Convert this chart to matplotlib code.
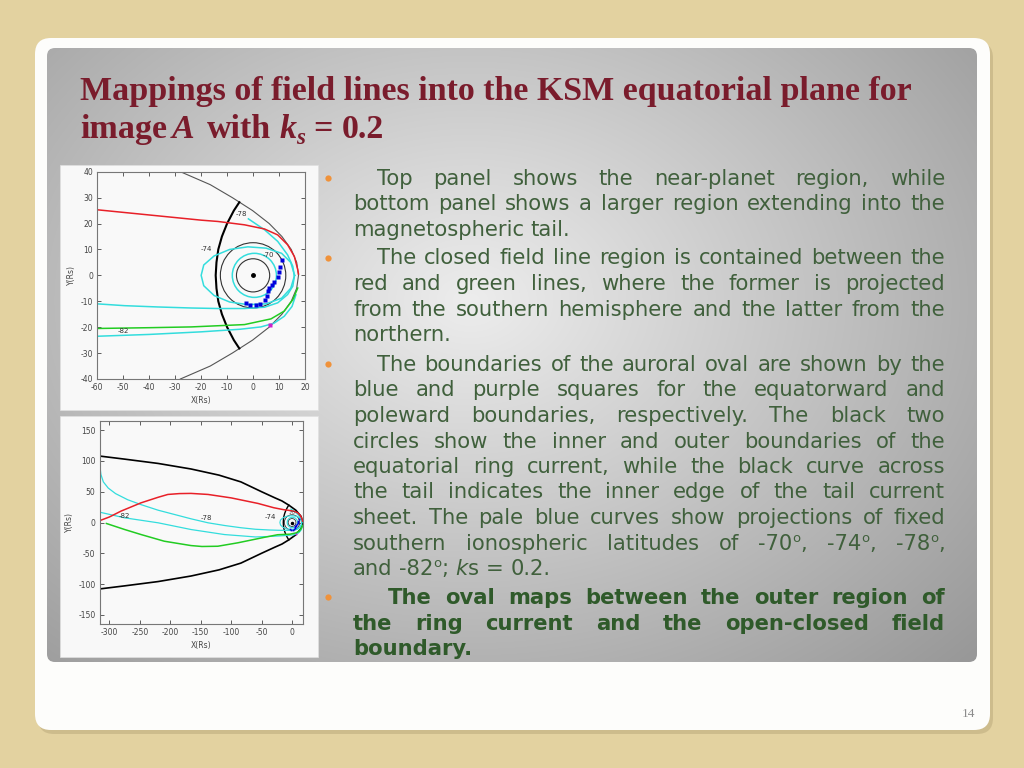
import numpy as np
import matplotlib
matplotlib.use('Agg')
import matplotlib.pyplot as plt
from matplotlib.patches import FancyBboxPatch, Circle, Rectangle

plt.rcParams['axes.unicode_minus'] = False

# ---------------- near-planet region (top panel), KSM, Rs ----------------
mp_x = [-28.0, -16.5, -8.0, -0.2, 6.2, 11.1, 14.7, 16.8, 17.5, 16.8, 14.7, 11.1, 6.2, -0.2, -8.0, -16.5, -28.0]
mp_y = [40, 35, 30, 25, 20, 15, 10, 5, 0, -5, -10, -15, -20, -25, -30, -35, -40]

edge_x = [-5.3, -7.4, -10.0, -12.0, -13.4, -14.1, -14.4, -14.1, -13.4, -12.0, -10.0, -7.4, -5.3]
edge_y = [28.2, 25, 20, 15, 10, 5, 0, -5, -10, -15, -20, -25, -28.2]

red_x = [-60, -50, -40, -30, -20, -13.6, -3.3, 4.4, 9.5, 13.3, 15.9, 17.2, 17.5]
red_y = [25.3, 24.3, 23.3, 22.3, 21.3, 20.8, 19.5, 17.9, 15.6, 11.8, 7.3, 2.2, 0.5]

green_x = [-60, -40, -23.8, -3.3, 6.9, 12.0, 15.3, 17.2]
green_y = [-20.5, -20.2, -19.9, -19.0, -16.8, -13.8, -9.4, -4.9]

c82_x = [-60, -40, -20, -5, 3, 8, 12, 15, 16.5]
c82_y = [-23.5, -22.8, -21.8, -20.8, -19.9, -18.5, -15.8, -12.0, -7.5]

c78_x = [-60, -49.5, -36.7, -23.8, -13.6, -3.3, 4.4, 9.5, 13.3, 15.3, 15.9, 15.3, 13.3, 9.5, 4.4, -1.8]
c78_y = [-11.0, -11.7, -12.2, -12.6, -12.8, -12.8, -12.3, -10.6, -7.4, -4.2, -0.4, 3.5, 7.9, 13.1, 17.6, 21.8]

c74_x = [16, 14.5, 11, 5, -2, -9, -15, -19, -20, -19, -15, -9, -2, 5, 11, 14.5, 16]
c74_y = [0, 5, 8.5, 10.5, 11, 10, 7.5, 4, 0, -4, -7.8, -10.3, -11.3, -11, -8.8, -5, 0]

c70_center = (0.5, 0.0)
c70_r = 8.5
ring_r = [6.4, 12.6]

oval_eq_x = [11.3, 10.4, 10.1, 9.5, 8.2, 7.3, 6.3, 5.6, 5.3, 4.6, 2.8, 1.0, -1.0, -2.9]
oval_eq_y = [6.0, 3.2, 1.2, -0.6, -2.4, -3.6, -4.9, -6.2, -8.1, -9.7, -11.0, -11.5, -11.5, -10.6]
oval_pole_x = [6.5]
oval_pole_y = [-19.2]

top_labels = ['-78', '-74', '-70', '-82']
top_lab_x = [-4.4, -18.1, 5.9, -50.1]
top_lab_y = [23.5, 10.1, 7.7, -21.5]

# ---------------- tail region (bottom panel) ----------------
mp2_x = [-316, -275, -220, -166, -120, -84, -50, -28, -16.5, -5.3, 6.2, 14.7, 17.5,
         14.7, 6.2, -5.3, -16.5, -28, -50, -84, -120, -166, -220, -275, -316]
mp2_y = [108, 103, 96, 87, 77, 66, 50, 40, 35, 28.2, 20, 10, 0,
         -10, -20, -28.2, -35, -40, -50, -66, -77, -87, -96, -103, -108]

red2_x = [-316, -300, -281, -248, -220, -204, -185, -166, -138, -100, -56, -30, -13.6, -3.3, 4.4, 9.5, 13.3, 15.9, 17.2]
red2_y = [3, 9, 18.5, 32, 41, 45.6, 47, 47.3, 45.6, 40, 31, 24, 20.8, 19.5, 17.9, 15.6, 11.8, 7.3, 2.2]

green2_x = [-305, -275, -248, -210, -166, -148, -122, -89, -45, -23.8, -3.3, 6.9, 12.0, 15.3, 17.2]
green2_y = [-1.6, -11.4, -19.6, -30.4, -37.5, -39.0, -38.6, -33.0, -24.0, -19.9, -19.0, -16.8, -13.8, -9.4, -4.9]

c78b_x = [-316, -315.5, -314, -310, -302, -290, -270, -248, -220, -193, -166, -138, -110, -84, -60,
          -36.7, -23.8, -13.6, -3.3, 4.4, 9.5, 13.3, 15.3, 15.9, 15.3, 13.3, 9.5, 4.4, -1.8]
c78b_y = [100, 90, 78, 66, 56, 47, 37, 29, 20, 13, 6, -0.5, -5, -8.5, -11,
          -12.2, -12.6, -12.8, -12.8, -12.3, -10.6, -7.4, -4.2, -0.4, 3.5, 7.9, 13.1, 17.6, 21.8]

c82b_x = [-316, -275, -220, -166, -111, -60, -40, -20, -5, 3, 8, 12, 15, 16.5]
c82b_y = [16.8, 7.6, -0.5, -11.4, -19.6, -23.5, -22.8, -21.8, -20.8, -19.9, -18.5, -15.8, -12.0, -7.5]

bot_labels = ['-82', '-78', '-74', '-70']
bot_lab_x = [-275, -140, -35.5, 1]
bot_lab_y = [10.3, 7.0, 8.6, 15]

# ---------------- slide text ----------------
title_1 = "Mappings of field lines into the KSM equatorial plane for"
paragraphs = [
    ["Top panel shows the near-planet region, while",
     "bottom panel shows a larger region extending into the",
     "magnetospheric tail."],
    ["The closed field line region is contained between the",
     "red and green lines, where the former is projected",
     "from the southern hemisphere and the latter from the",
     "northern."],
    ["The boundaries of the auroral oval are shown by the",
     "blue and purple squares for the equatorward and",
     "poleward boundaries, respectively. The black two",
     "circles show the inner and outer boundaries of the",
     "equatorial ring current, while the black curve across",
     "the tail indicates the inner edge of the tail current",
     "sheet. The pale blue curves show projections of fixed",
     "southern ionospheric latitudes of -70^o, -74^o, -78^o,",
     "and -82^o; ks = 0.2."],
    ["The oval maps between the outer region of",
     "the ring current and the open-closed field",
     "boundary."],
]
para_bold = [False, False, False, True]
para_base = [185, 264.5, 371, 604]
para_indent = [377, 377, 377, 388]
page_no = "14"

W, H = 1024, 768
fig = plt.figure(figsize=(W / 100, H / 100), dpi=100)
fig.patch.set_facecolor('#e3d2a0')
bg = fig.add_axes([0, 0, 1, 1], zorder=0)
bg.set_xlim(0, W)
bg.set_ylim(H, 0)
bg.axis('off')
renderer = fig.canvas.get_renderer()

# white card with shadow
bg.add_patch(FancyBboxPatch((38, 42), 955, 692, boxstyle="round,pad=0,rounding_size=16",
                            fc='#bfae80', ec='none', alpha=0.6, zorder=0.2))
bg.add_patch(FancyBboxPatch((35, 38), 955, 692, boxstyle="round,pad=0,rounding_size=16",
                            fc='#fdfdfb', ec='none', zorder=0.3))

# gray gradient panel
panel = FancyBboxPatch((47, 48), 930, 614, boxstyle="round,pad=0,rounding_size=8",
                       fc='none', ec='none', zorder=0.4)
bg.add_patch(panel)
gy, gx = np.mgrid[48:662, 47:977]
d = np.hypot((gx - 470) / 560.0, (gy - 300) / 420.0)
g = np.clip(0.93 - 0.27 * d, 0, 1)
im = bg.imshow(np.dstack([g, g, g]), extent=(47, 977, 662, 48), origin='upper',
               aspect='auto', interpolation='bilinear', zorder=0.5)
im.set_clip_path(panel)
bg.set_xlim(0, W)
bg.set_ylim(H, 0)


def width(t):
    return t.get_window_extent(renderer).width


def space_width(**kw):
    a = bg.text(0, 0, 'a a', **kw)
    b = bg.text(0, 0, 'aa', **kw)
    s = width(a) - width(b)
    a.remove()
    b.remove()
    return s


# title
tkw = dict(family='Liberation Serif', fontweight='bold', fontsize=24.5, color='#7a1c2c', va='baseline')
bg.text(80, 100, title_1, **tkw)
sp = space_width(**tkw)
x = 80
runs = [("image", {}, sp * 0.6), ("A", {'style': 'italic'}, sp * 1.4), ("with", {}, sp),
        ("k", {'style': 'italic'}, 0), ("s", {'style': 'italic', 'size': 16.5, 'dy': 6}, sp),
        ("=", {}, sp), ("0.2", {}, 0)]
for txt, opt, gap in runs:
    kw = dict(tkw)
    kw['fontstyle'] = opt.get('style', 'normal')
    if 'size' in opt:
        kw['fontsize'] = opt['size']
    t = bg.text(x, 138 + opt.get('dy', 0), txt, **kw)
    x += width(t) + gap


# body text, justified word by word
FS = 15.2


def make_runs(word):
    if '^o' in word:
        a, b = word.split('^o')
        return [(a, {}), ('o', {'sup': True}), (b, {})]
    if word == 'ks':
        return [('k', {'style': 'italic'}), ('s', {})]
    return [(word, {})]


def put_word(word, y, bold, color):
    texts, x = [], 0
    for txt, opt in make_runs(word):
        if not txt:
            continue
        size, dy = FS, 0
        if opt.get('sup'):
            size, dy = FS * 0.62, -8
        t = bg.text(x, y + dy, txt, fontsize=size, family='DejaVu Sans',
                    fontweight='bold' if bold else 'normal',
                    fontstyle=opt.get('style', 'normal'), color=color, va='baseline')
        texts.append(t)
        x += width(t)
    return texts, x


for lines, bold, base, indent in zip(paragraphs, para_bold, para_base, para_indent):
    color = '#2f5a2a' if bold else '#40603c'
    space = space_width(fontsize=FS, family='DejaVu Sans', fontweight='bold' if bold else 'normal')
    bg.plot([328], [base - 7], 'o', color='#f0923a', ms=4.5, mec='none')
    for i, line in enumerate(lines):
        y = base + i * 25.5
        left = indent if i == 0 else 353
        words = [put_word(w, y, bold, color) for w in line.split()]
        total = sum(wd for _, wd in words)
        last = i == len(lines) - 1
        gap = space if last or len(words) < 2 else (945 - left - total) / (len(words) - 1)
        x = left
        for texts, wd in words:
            for t in texts:
                px, py = t.get_position()
                t.set_position((px + x, py))
            x += wd + gap

bg.text(975, 717, page_no, family='Liberation Serif', fontsize=9.5, color='#8c8c8c',
        ha='right', va='baseline')

# white backgrounds of the two figures
bg.add_patch(Rectangle((60, 165), 258, 245, fc='#f8f8f8', ec='#e0e0e0', lw=0.5, zorder=1))
bg.add_patch(Rectangle((60, 416), 258, 241, fc='#f8f8f8', ec='#e0e0e0', lw=0.5, zorder=1))


def style(ax, xt, yt):
    ax.set_xticks(xt)
    ax.set_yticks(yt)
    ax.tick_params(direction='in', length=3, width=0.6, top=True, right=True,
                   labelsize=5.5, colors='#444444', pad=3)
    for s in ax.spines.values():
        s.set_color('#777777')
        s.set_linewidth(0.8)
    ax.set_facecolor('#f9f9f9')
    ax.set_xlabel('X(Rs)', fontsize=5.5, color='#444444', labelpad=3)
    ax.set_ylabel('Y(Rs)', fontsize=5.5, color='#444444', labelpad=3)


CY = '#33dddd'
# ---- top panel ----
ax1 = fig.add_axes([97.3 / W, 1 - 379 / H, 207.7 / W, 207.3 / H], zorder=2)
ax1.plot(mp_x, mp_y, color='#555555', lw=0.8)
ax1.plot(edge_x, edge_y, color='black', lw=1.5)
for r in ring_r:
    ax1.add_patch(Circle((0, 0), r, fill=False, ec='#333333', lw=0.8))
ax1.add_patch(Circle(c70_center, c70_r, fill=False, ec=CY, lw=1.1))
ax1.plot(c74_x, c74_y, color=CY, lw=1.1)
ax1.plot(c78_x, c78_y, color=CY, lw=1.1)
ax1.plot(c82_x, c82_y, color=CY, lw=1.1)
ax1.plot(red_x, red_y, color='#e82028', lw=1.1)
ax1.plot(green_x, green_y, color='#22cc22', lw=1.1)
ax1.plot(oval_eq_x, oval_eq_y, 's', color='#0000dd', ms=3.2, mec='none')
ax1.plot(oval_pole_x, oval_pole_y, 's', color='#cc22cc', ms=2.6, mec='none')
ax1.plot([0], [0], 'o', color='black', ms=2.5)
for s, lx, ly in zip(top_labels, top_lab_x, top_lab_y):
    ax1.text(lx, ly, s, fontsize=5, color='#333333', ha='center', va='center')
ax1.set_xlim(-60, 20)
ax1.set_ylim(-40, 40)
style(ax1, range(-60, 21, 10), range(-40, 41, 10))

# ---- bottom panel ----
ax2 = fig.add_axes([99.7 / W, 1 - 624 / H, 203.3 / W, 203 / H], zorder=2)
ax2.plot(mp2_x, mp2_y, color='black', lw=1.2)
ax2.plot(edge_x, edge_y, color='black', lw=1.0)
for r in ring_r:
    ax2.add_patch(Circle((0, 0), r, fill=False, ec='#333333', lw=0.6))
ax2.add_patch(Circle(c70_center, c70_r, fill=False, ec=CY, lw=0.8))
ax2.plot(c74_x, c74_y, color=CY, lw=0.8)
ax2.plot(c78b_x, c78b_y, color=CY, lw=0.9)
ax2.plot(c82b_x, c82b_y, color=CY, lw=0.9)
ax2.plot(red2_x, red2_y, color='#e82028', lw=1.1)
ax2.plot(green2_x, green2_y, color='#22cc22', lw=1.1)
ax2.plot(oval_eq_x, oval_eq_y, 's', color='#0000dd', ms=1.2, mec='none')
ax2.plot(oval_pole_x, oval_pole_y, 's', color='#cc22cc', ms=1.2, mec='none')
ax2.plot([0], [0], 'o', color='black', ms=1.5)
for s, lx, ly in zip(bot_labels, bot_lab_x, bot_lab_y):
    ax2.text(lx, ly, s, fontsize=5 if s != '-70' else 3, color='#333333', ha='center', va='center')
ax2.set_xlim(-316, 18)
ax2.set_ylim(-165, 165)
style(ax2, range(-300, 1, 50), range(-150, 151, 50))

fig.savefig('out.png', dpi=100)
